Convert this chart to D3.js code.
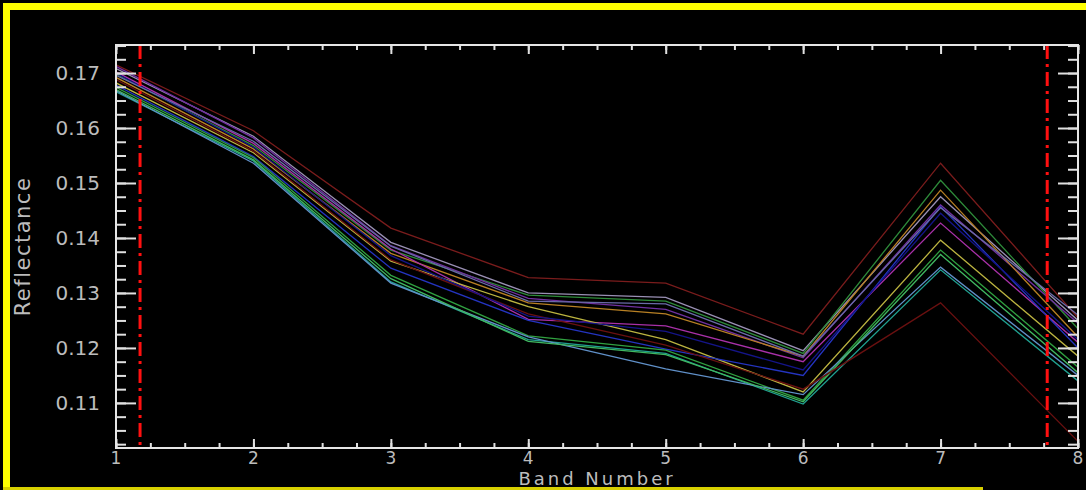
<!DOCTYPE html>
<html>
<head>
<meta charset="utf-8">
<script src="https://cdn.jsdelivr.net/npm/d3@7"></script>
<style>
  html, body { margin: 0; padding: 0; background: #000; }
  svg { display: block; }
  .lbl { font-family: "DejaVu Sans", sans-serif; fill: #bcbcbc; }
</style>
</head>
<body>
<svg width="1086" height="490"></svg>
<script>
// bands on the x axis
const bands = [1, 2, 3, 4, 5, 6, 7, 8];
const yTicks = [0.11, 0.12, 0.13, 0.14, 0.15, 0.16, 0.17];
const markers = [1.175, 7.776];

// one spectrum per line, reflectance at band 1..8
const sp1 = [0.1715, 0.1595, 0.1418, 0.1328, 0.1318, 0.1225, 0.1536, 0.1255];
const sp2 = [0.1708, 0.1585, 0.1392, 0.1300, 0.1292, 0.1195, 0.1475, 0.1250];
const sp3 = [0.1698, 0.1568, 0.1378, 0.1296, 0.1285, 0.1190, 0.1505, 0.1235];
const sp4 = [0.1712, 0.1582, 0.1386, 0.1290, 0.1270, 0.1182, 0.1460, 0.1245];
const sp5 = [0.1692, 0.1562, 0.1372, 0.1282, 0.1262, 0.1185, 0.1487, 0.1220];
const sp6 = [0.1702, 0.1572, 0.1380, 0.1252, 0.1240, 0.1175, 0.1427, 0.1210];
const sp7 = [0.1682, 0.1555, 0.1358, 0.1275, 0.1215, 0.1120, 0.1396, 0.1185];
const sp8 = [0.1678, 0.1548, 0.1345, 0.1250, 0.1198, 0.1150, 0.1457, 0.1200];
const sp9 = [0.1674, 0.1546, 0.1332, 0.1222, 0.1196, 0.1105, 0.1378, 0.1165];
const sp10 = [0.1666, 0.1540, 0.1320, 0.1215, 0.1190, 0.1098, 0.1342, 0.1140];
const sp11 = [0.1668, 0.1536, 0.1318, 0.1220, 0.1162, 0.1115, 0.1347, 0.1150];
const sp12 = [0.1670, 0.1542, 0.1326, 0.1212, 0.1188, 0.1102, 0.1370, 0.1155];
const sp13 = [0.1688, 0.1558, 0.1360, 0.1262, 0.1205, 0.1125, 0.1282, 0.1030];
const sp14 = [0.1700, 0.1565, 0.1368, 0.1258, 0.1230, 0.1160, 0.1445, 0.1215];
const sp15 = [0.1696, 0.1576, 0.1385, 0.1285, 0.1280, 0.1185, 0.1455, 0.1260];

const spectra = [sp1, sp2, sp3, sp4, sp5, sp6, sp7, sp8, sp9, sp10, sp11, sp12, sp13, sp14, sp15];
const colors = ["#7a1c1c", "#9a90b4", "#2e8b3a", "#7030a0", "#b88024", "#a830a8", "#bcb440",
  "#2434c0", "#30a040", "#20a090", "#6090c8", "#40b860", "#6a1010", "#141488", "#6a6aa8"];

const svg = d3.select("svg");
const pLeft = 116, pRight = 1078, pTop = 45, pBottom = 448;

// yellow frame (top, left, bottom only)
svg.append("rect").attr("x", 3).attr("y", 3).attr("width", 1083).attr("height", 7).attr("fill", "#ffff00");
svg.append("rect").attr("x", 3).attr("y", 3).attr("width", 7).attr("height", 487).attr("fill", "#ffff00");
svg.append("rect").attr("x", 3).attr("y", 487).attr("width", 980).attr("height", 3).attr("fill", "#d8d000");

const x = d3.scaleLinear().domain([1, 8]).range([pLeft, pRight]);
const y = d3.scaleLinear().domain([0.1018, 0.1751]).range([pBottom, pTop]);

svg.append("clipPath").attr("id", "plot")
  .append("rect").attr("x", pLeft).attr("y", pTop).attr("width", pRight - pLeft).attr("height", pBottom - pTop);

const line = d3.line().x((d, i) => x(bands[i])).y(d => y(d));
svg.append("g").attr("clip-path", "url(#plot)")
  .selectAll("path").data(spectra).join("path")
  .attr("d", line)
  .attr("fill", "none")
  .attr("stroke", (d, i) => colors[i])
  .attr("stroke-width", 1.3);

// red dash-dot markers
svg.append("g").selectAll("line").data(markers).join("line")
  .attr("x1", d => x(d)).attr("x2", d => x(d))
  .attr("y1", pTop).attr("y2", pBottom)
  .attr("stroke", "#ff1010").attr("stroke-width", 3)
  .attr("stroke-dasharray", "14,5,3,5");

// minor tick positions
const xMinor = d3.range(1, 8.001, 0.25);
const yMinor = d3.range(0.1025, 0.1751, 0.0025);

function styleAxis(g) {
  g.select(".domain").remove();
  g.selectAll(".tick line").attr("stroke", "#e0e0e0").attr("stroke-width", 2);
  g.selectAll("text").remove();
}

svg.append("g").attr("transform", `translate(0,${pBottom})`)
  .call(d3.axisBottom(x).tickValues(xMinor).tickSize(-5)).call(styleAxis);
svg.append("g").attr("transform", `translate(0,${pBottom})`)
  .call(d3.axisBottom(x).tickValues(bands).tickSize(-9)).call(styleAxis);
svg.append("g").attr("transform", `translate(0,${pTop})`)
  .call(d3.axisTop(x).tickValues(xMinor).tickSize(-5)).call(styleAxis);
svg.append("g").attr("transform", `translate(0,${pTop})`)
  .call(d3.axisTop(x).tickValues(bands).tickSize(-9)).call(styleAxis);
svg.append("g").attr("transform", `translate(${pLeft},0)`)
  .call(d3.axisLeft(y).tickValues(yMinor).tickSize(-10)).call(styleAxis);
svg.append("g").attr("transform", `translate(${pLeft},0)`)
  .call(d3.axisLeft(y).tickValues(yTicks).tickSize(-20)).call(styleAxis);
svg.append("g").attr("transform", `translate(${pRight},0)`)
  .call(d3.axisRight(y).tickValues(yMinor).tickSize(-10)).call(styleAxis);
svg.append("g").attr("transform", `translate(${pRight},0)`)
  .call(d3.axisRight(y).tickValues(yTicks).tickSize(-20)).call(styleAxis);

// plot box
svg.append("rect").attr("x", pLeft).attr("y", pTop)
  .attr("width", pRight - pLeft).attr("height", pBottom - pTop)
  .attr("fill", "none").attr("stroke", "#e6e6e6").attr("stroke-width", 2);

// tick labels
svg.append("g").selectAll("text").data(bands).join("text")
  .attr("class", "lbl")
  .attr("x", d => x(d)).attr("y", pBottom + 16)
  .attr("text-anchor", "middle")
  .attr("font-size", 17)
  .text(d => d);

svg.append("g").selectAll("text").data(yTicks).join("text")
  .attr("class", "lbl")
  .attr("x", pLeft - 16).attr("y", d => y(d) + 7)
  .attr("text-anchor", "end")
  .attr("font-size", 20)
  .text(d => d3.format(".2f")(d));

svg.append("text").attr("class", "lbl")
  .attr("x", (pLeft + pRight) / 2).attr("y", 485)
  .attr("text-anchor", "middle").attr("font-size", 18)
  .attr("letter-spacing", 3)
  .text("Band Number");

svg.append("text").attr("class", "lbl")
  .attr("transform", `translate(30,${(pTop + pBottom) / 2}) rotate(-90)`)
  .attr("text-anchor", "middle").attr("font-size", 21)
  .attr("letter-spacing", 1.5)
  .text("Reflectance");
</script>
</body>
</html>
